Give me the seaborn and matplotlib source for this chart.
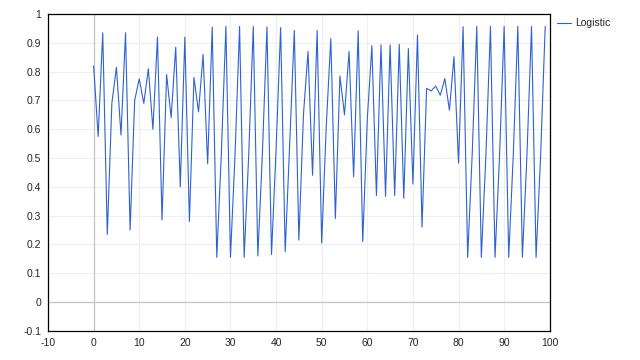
import numpy as np
import pandas as pd
import seaborn as sns
import matplotlib
matplotlib.use("Agg")
import matplotlib.pyplot as plt

# values, one per step
steps = list(range(100))
logistic = [
    0.82, 0.575, 0.935, 0.235, 0.69, 0.815, 0.58, 0.935, 0.25, 0.70,
    0.775, 0.69, 0.81, 0.60, 0.92, 0.285, 0.79, 0.64, 0.885, 0.40,
    0.92, 0.28, 0.78, 0.66, 0.86, 0.48, 0.955, 0.155, 0.515, 0.957,
    0.155, 0.51, 0.957, 0.155, 0.51, 0.957, 0.16, 0.515, 0.955, 0.165,
    0.53, 0.953, 0.175, 0.555, 0.943, 0.215, 0.65, 0.87, 0.44, 0.943,
    0.205, 0.61, 0.915, 0.29, 0.785, 0.65, 0.87, 0.435, 0.942, 0.21,
    0.635, 0.89, 0.37, 0.893, 0.367, 0.893, 0.37, 0.895, 0.36, 0.88,
    0.41, 0.927, 0.26, 0.742, 0.733, 0.75, 0.718, 0.776, 0.666, 0.852,
    0.483, 0.956, 0.155, 0.515, 0.957, 0.155, 0.51, 0.957, 0.155, 0.51,
    0.957, 0.155, 0.51, 0.957, 0.155, 0.51, 0.957, 0.155, 0.51, 0.957,
]
x_ticks = list(range(-10, 101, 10))
y_ticks = [-0.1, 0, 0.1, 0.2, 0.3, 0.4, 0.5, 0.6, 0.7, 0.8, 0.9, 1]
y_labels = ["-0.1", "0", "0.1", "0.2", "0.3", "0.4", "0.5", "0.6", "0.7", "0.8", "0.9", "1"]

df = pd.DataFrame({"x": steps, "Logistic": logistic})

sns.set_style("white")
plt.rcParams["font.family"] = ["Liberation Sans", "DejaVu Sans"]
plt.rcParams["axes.unicode_minus"] = False

fig = plt.figure(figsize=(6.4, 3.6), dpi=100)
ax = fig.add_axes([0.075, 0.081, 0.784, 0.880])

ax.grid(True, color="#efefef", linewidth=0.8)
ax.axhline(0, color="#c4c4c4", linewidth=0.9, zorder=1)
ax.axvline(0, color="#c4c4c4", linewidth=0.9, zorder=1)

sns.lineplot(data=df, x="x", y="Logistic", ax=ax, color="#2d62d2",
             linewidth=0.8, label="Logistic", zorder=3)

ax.set_xlim(-10, 100)
ax.set_ylim(-0.1, 1)
ax.set_xticks(x_ticks)
ax.set_xticklabels([str(t) for t in x_ticks])
ax.set_yticks(y_ticks)
ax.set_yticklabels(y_labels)
ax.set_xlabel("")
ax.set_ylabel("")
ax.tick_params(axis="both", direction="out", length=3, width=0.8,
               color="black", labelsize=7.5, pad=2)
for s in ax.spines.values():
    s.set_color("black")
    s.set_linewidth(0.9)

ax.legend(loc="upper left", bbox_to_anchor=(1.0, 1.01), frameon=False,
          fontsize=7.5, handlelength=1.3, handletextpad=0.4, borderaxespad=0.3)

fig.savefig("out.png", dpi=100)
